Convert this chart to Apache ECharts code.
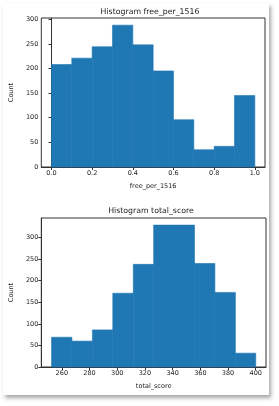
<!DOCTYPE html>
<html>
<head>
<meta charset="utf-8">
<script src="https://cdn.jsdelivr.net/npm/echarts@6/dist/echarts.min.js"></script>
<style>
  html, body { margin: 0; padding: 0; background: #fff; }
  #card { position: absolute; left: 3px; top: 3px; width: 266px; height: 392px; background: #fff;
          box-shadow: 2px 3px 4px rgba(0,0,0,0.35); }
  #main { position: absolute; left: 0; top: 0; width: 279px; height: 406px; }
</style>
</head>
<body>
<div id="card"></div>
<div id="main"></div>
<script>
// histogram 1 : free_per_1516
var freeEdges = [0.0, 0.1, 0.2, 0.3, 0.4, 0.5, 0.6, 0.7, 0.8, 0.9, 1.0];
var freeCounts = [208, 221, 244, 288, 248, 195, 96, 35, 42, 145];
var freeTicks = [0.0, 0.2, 0.4, 0.6, 0.8, 1.0];

// histogram 2 : total_score
var scoreEdges = [252.6, 267.3, 282.1, 296.8, 311.6, 326.3, 341.0, 355.8, 370.5, 385.3, 400.0];
var scoreCounts = [69, 60, 86, 171, 238, 329, 329, 240, 173, 32];
var scoreTicks = [260, 280, 300, 320, 340, 360, 380, 400];

var countTicks = [0, 50, 100, 150, 200, 250, 300];

function binsOf(edges, counts) {
    var out = [];
    for (var i = 0; i < counts.length; i++) {
        out.push([edges[i], edges[i + 1], counts[i]]);
    }
    return out;
}

function renderBin(params, api) {
    var p0 = api.coord([api.value(0), api.value(2)]);
    var p1 = api.coord([api.value(1), 0]);
    return {
        type: 'rect',
        shape: { x: p0[0], y: p0[1], width: p1[0] - p0[0], height: p1[1] - p0[1] },
        style: { fill: '#1f77b4', stroke: '#1f77b4', lineWidth: 0.6 }
    };
}

var txt = '#222';
var fontFam = 'DejaVu Sans';

function xAx(idx, min, max, ticks, name, fmt) {
    return {
        type: 'value', gridIndex: idx, min: min, max: max,
        splitLine: { show: false },
        axisLine: { show: true, onZero: false, lineStyle: { color: '#333', width: 1 } },
        axisTick: { show: true, length: 3, customValues: ticks, lineStyle: { color: '#333' } },
        axisLabel: { customValues: ticks, color: txt, fontSize: 6.5, fontFamily: fontFam, margin: 3,
                     formatter: fmt },
        name: name, nameLocation: 'middle', nameGap: 16,
        nameTextStyle: { color: txt, fontSize: 6.5, fontFamily: fontFam }
    };
}

function yAx(idx, max) {
    return {
        type: 'value', gridIndex: idx, min: 0, max: max,
        splitLine: { show: false },
        axisLine: { show: true, lineStyle: { color: '#333', width: 1 } },
        axisTick: { show: true, length: 3, customValues: countTicks, lineStyle: { color: '#333' } },
        axisLabel: { customValues: countTicks, color: txt, fontSize: 6.5, fontFamily: fontFam, margin: 3 },
        name: 'Count', nameLocation: 'middle', nameGap: 22, nameRotate: 90,
        nameTextStyle: { color: txt, fontSize: 6.5, fontFamily: fontFam }
    };
}

var myChart = echarts.init(document.getElementById('main'), null, { renderer: 'canvas' });

var option = {
    backgroundColor: 'transparent',
    animation: false,
    grid: [
        { left: 35, top: 18, width: 230, height: 149, show: true, borderColor: '#333', borderWidth: 1, backgroundColor: 'transparent' },
        { left: 36, top: 218, width: 230, height: 149, show: true, borderColor: '#333', borderWidth: 1, backgroundColor: 'transparent' }
    ],
    xAxis: [
        xAx(0, -0.05, 1.05, freeTicks, 'free_per_1516', function (v) { return v.toFixed(1); }),
        xAx(1, 245.2, 407.4, scoreTicks, 'total_score', function (v) { return String(v); })
    ],
    yAxis: [
        yAx(0, 302.5),
        yAx(1, 345.5)
    ],
    graphic: [
        { type: 'text', x: 150, y: 12, style: { text: 'Histogram free_per_1516', fill: txt, fontSize: 7.8,
          fontFamily: fontFam, align: 'center', verticalAlign: 'middle' } },
        { type: 'text', x: 151, y: 211, style: { text: 'Histogram total_score', fill: txt, fontSize: 7.8,
          fontFamily: fontFam, align: 'center', verticalAlign: 'middle' } }
    ],
    series: [
        {
            type: 'custom', xAxisIndex: 0, yAxisIndex: 0,
            data: binsOf(freeEdges, freeCounts),
            encode: { x: [0, 1], y: 2 },
            renderItem: renderBin
        },
        {
            type: 'custom', xAxisIndex: 1, yAxisIndex: 1,
            data: binsOf(scoreEdges, scoreCounts),
            encode: { x: [0, 1], y: 2 },
            renderItem: renderBin
        }
    ]
};

myChart.setOption(option);
</script>
</body>
</html>
